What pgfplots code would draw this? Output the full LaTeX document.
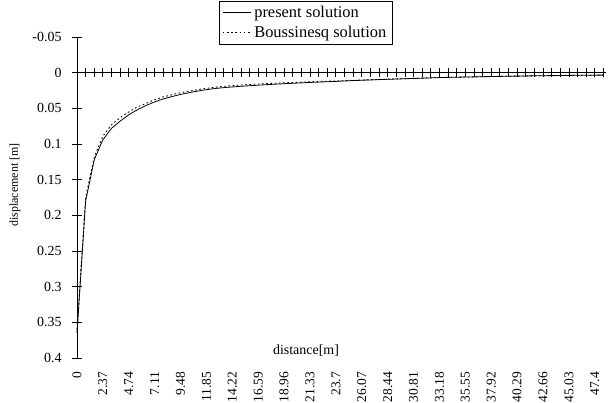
\documentclass[border=0pt]{standalone}
\usepackage{fontspec}
\setmainfont{Liberation Serif}
\usepackage{pgfplots}
\usepackage{pgfplotstable}
\pgfplotsset{compat=1.18}

% i = category index (distance = 0.79*i m)
\pgfplotstableread{
i  present  bouss
0  0.365  0.360
1  0.180  0.175
2  0.122  0.118
3  0.094  0.089
4  0.078  0.073
5  0.068  0.063
6  0.059  0.055
7  0.052  0.048
8  0.046  0.043
9  0.041  0.038
10 0.0368 0.034
11 0.0335 0.031
12 0.0305 0.028
13 0.0280 0.026
14 0.0258 0.0238
15 0.0238 0.0220
16 0.0222 0.0204
17 0.0210 0.0192
18 0.0200 0.0182
19 0.0191 0.0174
20 0.0183 0.0166
21 0.0175 0.0159
22 0.0168 0.0153
23 0.0161 0.0148
24 0.0155 0.0143
25 0.0149 0.0138
26 0.0143 0.0133
27 0.0137 0.0128
28 0.0132 0.0124
29 0.0127 0.0120
30 0.0122 0.0116
31 0.0116 0.0112
32 0.0111 0.0108
33 0.0106 0.0103
34 0.0102 0.0099
35 0.0097 0.0095
36 0.0093 0.0091
37 0.0089 0.0088
38 0.0085 0.0084
39 0.0081 0.0080
40 0.0077 0.0076
41 0.0073 0.0072
42 0.0069 0.0069
43 0.0066 0.0066
44 0.0064 0.0064
45 0.0061 0.0061
46 0.0059 0.0059
47 0.0057 0.0057
48 0.0054 0.0054
49 0.0052 0.0052
50 0.0050 0.0050
51 0.0048 0.0048
52 0.0046 0.0046
53 0.0044 0.0044
54 0.0043 0.0043
55 0.0041 0.0041
56 0.0040 0.0040
57 0.0038 0.0038
58 0.0037 0.0037
59 0.0036 0.0036
60 0.0035 0.0035
61 0.0034 0.0034
}\data

\begin{document}
\begin{tikzpicture}
\useasboundingbox (0,0) rectangle (610bp,403bp);
\begin{axis}[
  at={(77bp,45bp)}, anchor=south west,
  scale only axis, width=529bp, height=321bp,
  xmin=0, xmax=61.3, ymin=-0.05, ymax=0.4, y dir=reverse,
  axis y line*=left, axis x line*=bottom,
  x axis line style={draw=none},
  y axis line style={line width=0.8bp},
  xtick={0,3,...,60},
  xticklabels={0,2.37,4.74,7.11,9.48,11.85,14.22,16.59,18.96,21.33,23.7,26.07,28.44,30.81,33.18,35.55,37.92,40.29,42.66,45.03,47.4},
  xticklabel style={yshift=-5.5bp, rotate=90, anchor=east, font=\fontsize{13.5}{15}\selectfont},
  x tick style={draw=none},
  ytick={-0.05,0,0.05,0.1,0.15,0.2,0.25,0.3,0.35,0.4},
  yticklabels={-0.05,0,0.05,0.1,0.15,0.2,0.25,0.3,0.35,0.4},
  yticklabel style={font=\fontsize{14}{16}\selectfont, xshift=-7bp},
  y tick style={line width=0.8bp, black},
  tick align=center, major tick length=10bp,
  clip=false,
  legend image code/.code={\draw[#1] (0bp,0bp) -- (28bp,0bp);},
  legend cell align=left,
  legend style={at={(axis description cs:0.2684,1.112)}, anchor=north west,
    draw=black, line width=0.8bp, font=\fontsize{16.5}{18}\selectfont,
    inner xsep=3bp, inner ysep=3bp, row sep=3bp,
    nodes={inner xsep=3bp}},
]
\addplot[black, line width=0.8bp] table[x=i, y=present] {\data};
\addlegendentry{present solution}
\addplot[black, line width=0.9bp, dash pattern=on 1.6bp off 2.6bp] table[x=i, y=bouss] {\data};
\addlegendentry{Boussinesq solution}
\end{axis}
\begin{axis}[
  at={(77bp,45bp)}, anchor=south west,
  scale only axis, width=529bp, height=321bp,
  xmin=0, xmax=61.3, ymin=-0.05, ymax=0.4, y dir=reverse,
  axis x line*=middle, axis y line=none,
  x axis line style={line width=0.8bp},
  xtick={0,...,61}, xticklabels={}, ytick=\empty,
  x tick style={line width=0.8bp, black},
  tick align=center, major tick length=9bp,
]
\end{axis}
\node[rotate=90, font=\fontsize{12}{14}\selectfont] at (15bp,218bp) {displacement [m]};
\node[font=\fontsize{14}{16}\selectfont] at (306bp,52bp) {distance[m]};
\end{tikzpicture}
\end{document}
